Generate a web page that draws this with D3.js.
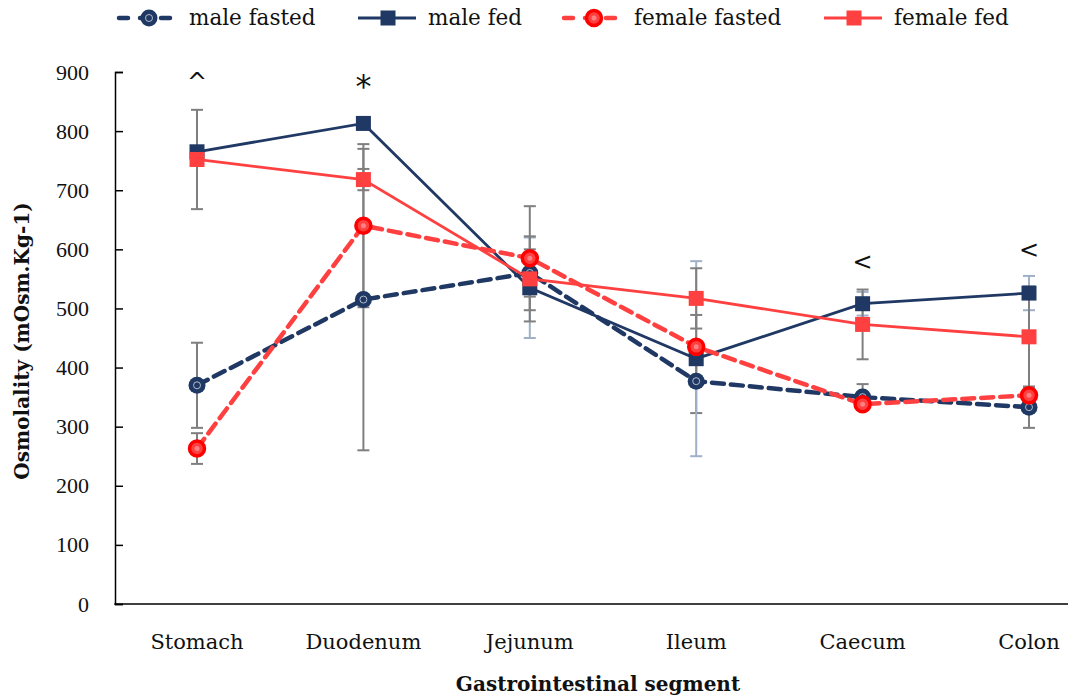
<!DOCTYPE html>
<html>
<head>
<meta charset="utf-8">
<script src="https://cdn.jsdelivr.net/npm/d3@7"></script>
<style>
    body { margin: 0; background: #fff; }
    svg { display: block; }
    .txt { font-family: "DejaVu Serif", serif; fill: #111; }
    .yaxis text { font-family: "Liberation Serif", serif; font-size: 22px; fill: #111; }
</style>
</head>
<body>
<svg class="chart" width="1068" height="698"></svg>
<script>
var segments = ["Stomach", "Duodenum", "Jejunum", "Ileum", "Caecum", "Colon"];
var yTicks = [0, 100, 200, 300, 400, 500, 600, 700, 800, 900];

var maleFasted   = [370, 515, 560, 377, 350, 333];
var maleFed      = [765, 813, 535, 415, 508, 526];
var femaleFasted = [263, 640, 585, 435, 338, 353];
var femaleFed    = [752, 718, 550, 517, 473, 452];

// error bar half-widths (+/-)
var maleFastedErr   = [72, 255, 40, 54, 22, 35];
var maleFedErr      = [8, 8, 85, 165, 20, 29];
var femaleFastedErr = [26, 138, 88, 54, 10, 14];
var femaleFedErr    = [84, 18, 72, 51, 59, 85];

// significance marks above the columns
var marks = [
    { seg: "Stomach", text: "^", value: 870 },
    { seg: "Duodenum", text: "*", value: 858 },
    { seg: "Caecum", text: "<", value: 565 },
    { seg: "Colon", text: "<", value: 586 }
];

var navy = "#203864",
    red = "#ff4040",
    brightRed = "#ff0000",
    errGrey = "#7f7f7f",
    errBlue = "#9fb0c8";

var series = [
    { name: "male fasted", values: maleFasted, err: maleFastedErr, color: navy, dash: "12,7", marker: "circleNavy", errColor: errGrey },
    { name: "male fed", values: maleFed, err: maleFedErr, color: navy, dash: null, marker: "square", errColor: errBlue },
    { name: "female fasted", values: femaleFasted, err: femaleFastedErr, color: red, dash: "12,7", marker: "circleRed", errColor: errGrey },
    { name: "female fed", values: femaleFed, err: femaleFedErr, color: red, dash: null, marker: "square", errColor: errGrey }
];

var svg = d3.select("svg.chart");
var plotLeft = 115, plotBottom = 604, plotTop = 72;

var x = d3.scalePoint().domain(segments).range([197, 1029]);
var y = d3.scaleLinear().domain([0, 900]).range([plotBottom, plotTop]);

// axes (ticks point inward)
var yAxis = d3.axisLeft(y).tickValues(yTicks).tickSize(-8).tickSizeOuter(-8).tickPadding(26);
var gy = svg.append("g")
    .attr("class", "yaxis")
    .attr("transform", "translate(" + plotLeft + ",0)")
    .call(yAxis);
gy.attr("font-family", "Liberation Serif").attr("font-size", 22);
gy.select(".domain").attr("stroke", "#000").attr("stroke-width", 1.5);
gy.selectAll(".tick line").attr("stroke", "#000").attr("stroke-width", 1.5);

svg.append("line")
    .attr("x1", plotLeft - 0.75).attr("x2", 1068)
    .attr("y1", plotBottom).attr("y2", plotBottom)
    .attr("stroke", "#000").attr("stroke-width", 1.5);

svg.selectAll(".xlab")
    .data(segments)
    .enter()
        .append("text")
        .attr("class", "txt xlab")
        .attr("x", function(d) { return x(d); })
        .attr("y", 649)
        .attr("text-anchor", "middle")
        .attr("font-size", "21px")
        .text(function(d) { return d; });

svg.append("text")
    .attr("class", "txt")
    .attr("x", 598).attr("y", 691)
    .attr("text-anchor", "middle")
    .attr("font-size", "20px")
    .attr("font-weight", "bold")
    .text("Gastrointestinal segment");

svg.append("text")
    .attr("class", "txt")
    .attr("transform", "translate(29,341) rotate(-90)")
    .attr("text-anchor", "middle")
    .attr("font-size", "20px")
    .attr("font-weight", "bold")
    .text("Osmolality (mOsm.Kg-1)");

// error bars
series.forEach(function(s) {
    var g = svg.append("g").attr("stroke", s.errColor).attr("stroke-width", 2);
    segments.forEach(function(seg, i) {
        var lo = y(s.values[i] - s.err[i]), hi = y(s.values[i] + s.err[i]), cx = x(seg);
        g.append("line").attr("x1", cx).attr("x2", cx).attr("y1", lo).attr("y2", hi);
        g.append("line").attr("x1", cx - 6).attr("x2", cx + 6).attr("y1", lo).attr("y2", lo);
        g.append("line").attr("x1", cx - 6).attr("x2", cx + 6).attr("y1", hi).attr("y2", hi);
    });
});

var line = d3.line()
    .x(function(d, i) { return x(segments[i]); })
    .y(function(d) { return y(d); });

function drawMarker(g, type, cx, cy, color) {
    if (type === "square") {
        g.append("rect")
            .attr("x", cx - 7.5).attr("y", cy - 7.5)
            .attr("width", 15).attr("height", 15)
            .attr("fill", color);
    } else if (type === "circleNavy") {
        g.append("circle").attr("cx", cx).attr("cy", cy).attr("r", 8.5).attr("fill", navy);
        g.append("circle").attr("cx", cx).attr("cy", cy).attr("r", 3.5)
            .attr("fill", "none").attr("stroke", "#d5dbe6").attr("stroke-width", 0.8);
    } else {
        g.append("circle").attr("cx", cx).attr("cy", cy).attr("r", 7.5)
            .attr("fill", red).attr("stroke", brightRed).attr("stroke-width", 3.5);
        g.append("circle").attr("cx", cx).attr("cy", cy).attr("r", 2.5)
            .attr("fill", "#ff8080");
    }
}

// lines and markers
series.forEach(function(s) {
    svg.append("path")
        .datum(s.values)
        .attr("d", line)
        .attr("fill", "none")
        .attr("stroke", s.color)
        .attr("stroke-width", s.dash ? 4.5 : 2.8)
        .attr("stroke-dasharray", s.dash)
        .attr("stroke-linecap", s.dash ? "round" : "butt");
    var g = svg.append("g");
    s.values.forEach(function(v, i) {
        drawMarker(g, s.marker, x(segments[i]), y(v), s.color);
    });
});

svg.selectAll(".mark")
    .data(marks)
    .enter()
        .append("text")
        .attr("class", "mark")
        .attr("x", function(d) { return x(d.seg); })
        .attr("y", function(d) { return y(d.value); })
        .attr("text-anchor", "middle")
        .attr("font-size", function(d) { return d.text === "*" ? "32px" : "24px"; })
        .attr("font-family", "DejaVu Sans, sans-serif")
        .attr("fill", "#111")
        .text(function(d) { return d.text; });

// legend
var legendX = [117, 356, 562, 822];
series.forEach(function(s, i) {
    var lx = legendX[i], ly = 18;
    var g = svg.append("g");
    g.append("line")
        .attr("x1", lx + 2).attr("x2", lx + 60)
        .attr("y1", ly).attr("y2", ly)
        .attr("stroke", s.color)
        .attr("stroke-width", s.dash ? 4.5 : 2.8)
        .attr("stroke-dasharray", s.dash ? "9,12" : null)
        .attr("stroke-linecap", s.dash ? "round" : "butt");
    drawMarker(g, s.marker, lx + 32, ly, s.color);
    g.append("text")
        .attr("class", "txt")
        .attr("x", lx + 72).attr("y", ly + 7)
        .attr("font-size", "21.5px")
        .text(s.name);
});
</script>
</body>
</html>
